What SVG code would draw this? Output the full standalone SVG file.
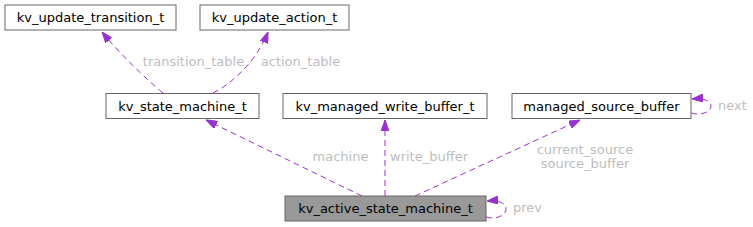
<svg xmlns="http://www.w3.org/2000/svg" width="753" height="227" viewBox="0 0 753 227">
<style>
.n{fill:#ffffff;stroke:#666666;stroke-width:1}
.cur{fill:#999999;stroke:#666666;stroke-width:1}
.t{font-family:"DejaVu Sans",sans-serif;font-size:13px;fill:#000000;text-anchor:middle}
.e{fill:none;stroke:#9a32cd;stroke-width:1;stroke-dasharray:6,4}
.l{font-family:"DejaVu Sans",sans-serif;font-size:13px;fill:#bdbdbd}
</style>
<defs>
<marker id="ah" viewBox="0 0 11 8" refX="11" refY="4" markerWidth="11" markerHeight="8" orient="auto" markerUnits="userSpaceOnUse">
<path d="M0,0 L11,4 L0,8 z" fill="#9a32cd" stroke="#9a32cd"/>
</marker>
</defs>
<rect width="753" height="227" fill="#ffffff"/>
<g id="edges">
<path class="e" d="M163,93 C145,78 118,52 102,32" marker-end="url(#ah)"/>
<text class="l" x="193.5" y="66" text-anchor="middle">transition_table</text>
<path class="e" d="M213,93 C235,82 258,58 268,32" marker-end="url(#ah)"/>
<text class="l" x="300.5" y="66" text-anchor="middle">action_table</text>
<path class="e" d="M362,196 L206,120" marker-end="url(#ah)"/>
<text class="l" x="340.5" y="161" text-anchor="middle">machine</text>
<path class="e" d="M385,196 L385,120" marker-end="url(#ah)"/>
<text class="l" x="429" y="161" text-anchor="middle">write_buffer</text>
<path class="e" d="M415,196 L580,120" marker-end="url(#ah)"/>
<text class="l" x="585" y="154" text-anchor="middle">current_source</text>
<text class="l" x="585" y="168" text-anchor="middle">source_buffer</text>
<path class="e" d="M691,113 C701,116 711,112 711,106 C711,101 704,98 692,99" marker-end="url(#ah)"/>
<text class="l" x="718" y="110">next</text>
<path class="e" d="M486,217 C497,220 506,215 506,209 C506,203 499,200 487,201" marker-end="url(#ah)"/>
<text class="l" x="513" y="212">prev</text>
</g>
<g id="kv_update_transition_t">
<rect class="n" x="5" y="5" width="171" height="25"/>
<text class="t" x="90.5" y="22">kv_update_transition_t</text>
</g>
<g id="kv_update_action_t">
<rect class="n" x="200" y="5" width="149" height="25"/>
<text class="t" x="274.5" y="22">kv_update_action_t</text>
</g>
<g id="kv_state_machine_t">
<rect class="n" x="106" y="93.5" width="153" height="25"/>
<text class="t" x="182.5" y="111">kv_state_machine_t</text>
</g>
<g id="kv_managed_write_buffer_t">
<rect class="n" x="283" y="93.5" width="204" height="25"/>
<text class="t" x="385" y="111">kv_managed_write_buffer_t</text>
</g>
<g id="managed_source_buffer">
<rect class="n" x="512" y="93.5" width="179" height="25"/>
<text class="t" x="601.5" y="111">managed_source_buffer</text>
</g>
<g id="kv_active_state_machine_t">
<rect class="cur" x="285" y="196" width="201" height="25"/>
<text class="t" x="385.5" y="213">kv_active_state_machine_t</text>
</g>
</svg>
